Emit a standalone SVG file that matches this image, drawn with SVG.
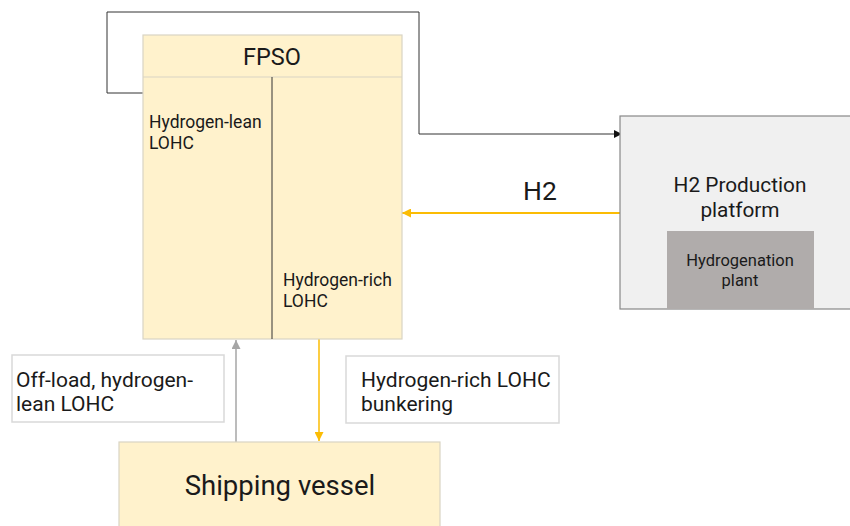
<svg xmlns="http://www.w3.org/2000/svg" width="850" height="526" viewBox="0 0 850 526">
<defs>
<style>
text{font-family:Roboto,"Liberation Sans",sans-serif;fill:#1a1a1a}
.yel{fill:#fff2cc;stroke:#d9d4c4;stroke-width:1.2}
.lbl{fill:#ffffff;stroke:#d9d9d9;stroke-width:1.5}
.inner{font-size:17.5px}
.note{font-size:21px}
</style>
<marker id="ablk" viewBox="0 0 10 10" refX="10" refY="5" markerWidth="8" markerHeight="8" markerUnits="userSpaceOnUse" orient="auto"><path d="M0,0L10,5L0,10z" fill="#111"/></marker>
<marker id="ayel" viewBox="0 0 10 10" refX="10" refY="5" markerWidth="9" markerHeight="9" markerUnits="userSpaceOnUse" orient="auto"><path d="M0,0L10,5L0,10z" fill="#fbbc04"/></marker>
<marker id="agry" viewBox="0 0 10 10" refX="10" refY="5" markerWidth="9" markerHeight="9" markerUnits="userSpaceOnUse" orient="auto"><path d="M0,0L10,5L0,10z" fill="#a6a6a6"/></marker>
</defs>
<rect width="850" height="526" fill="#ffffff"/>
<g id="connectors">
<path d="M143,93 H107 V12 H419 V134 H622" fill="none" stroke="#333" stroke-width="1" marker-end="url(#ablk)"/>
<line x1="620" y1="213" x2="402" y2="213" stroke="#fbbc04" stroke-width="2" marker-end="url(#ayel)"/>
<line x1="319" y1="339" x2="319" y2="441" stroke="#fbbc04" stroke-width="1.5" marker-end="url(#ayel)"/>
<line x1="236" y1="442" x2="236" y2="340" stroke="#a6a6a6" stroke-width="1.5" marker-end="url(#agry)"/>
</g>
<g id="fpso">
<rect class="yel" x="143" y="35" width="259" height="304"/>
<line x1="143" y1="77" x2="402" y2="77" stroke="#d9d4c4" stroke-width="1.2"/>
<line x1="272" y1="77" x2="272" y2="339" stroke="#333" stroke-width="1"/>
<text x="272" y="65" font-size="23.5" text-anchor="middle">FPSO</text>
<text class="inner" x="149" y="128">Hydrogen-lean</text>
<text class="inner" x="149" y="149">LOHC</text>
<text class="inner" x="283" y="286">Hydrogen-rich</text>
<text class="inner" x="283" y="307">LOHC</text>
</g>
<g id="h2-platform">
<rect x="620" y="116" width="235" height="193" fill="#f0f0f0" stroke="#888" stroke-width="1.2"/>
<text x="740" y="192" font-size="20.8" text-anchor="middle">H2 Production</text>
<text x="740" y="217" font-size="20.8" text-anchor="middle">platform</text>
</g>
<g id="hydrogenation-plant">
<rect x="667" y="231" width="147" height="78" fill="#b0acab"/>
<text x="740" y="266" font-size="16.5" text-anchor="middle">Hydrogenation</text>
<text x="740" y="286" font-size="16.5" text-anchor="middle">plant</text>
</g>
<g id="h2-label">
<text x="540" y="200" font-size="26.5" text-anchor="middle">H2</text>
</g>
<g id="offload-label">
<rect class="lbl" x="12" y="355" width="212" height="67"/>
<text class="note" x="16" y="387">Off-load, hydrogen-</text>
<text class="note" x="16" y="411">lean LOHC</text>
</g>
<g id="bunkering-label">
<rect class="lbl" x="346" y="356" width="213" height="67"/>
<text class="note" x="361" y="387">Hydrogen-rich LOHC</text>
<text class="note" x="361" y="411">bunkering</text>
</g>
<g id="shipping-vessel">
<rect class="yel" x="119" y="442" width="321" height="90"/>
<text x="280" y="495" font-size="27.5" text-anchor="middle">Shipping vessel</text>
</g>
</svg>
